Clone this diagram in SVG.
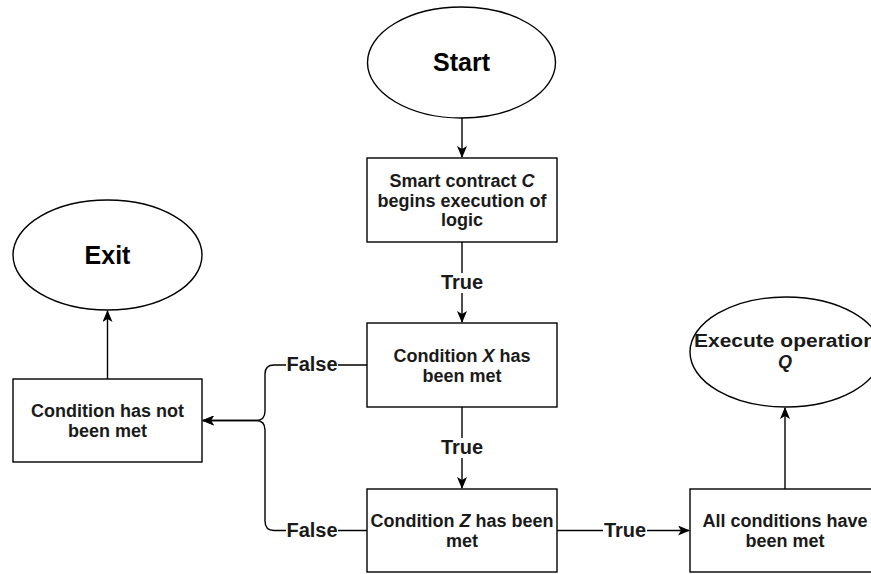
<svg xmlns="http://www.w3.org/2000/svg" width="871" height="574" viewBox="0 0 871 574">
  <style>
    .shape { fill: #ffffff; stroke: #000000; stroke-width: 1.4; }
    .edge { fill: none; stroke: #000000; stroke-width: 1.4; }
    .txt { font-family: "Liberation Sans", Arial, Helvetica, sans-serif; font-weight: bold; font-size: 18px; fill: #1a1a1a; text-anchor: middle; }
    .big { font-size: 25px; fill: #000000; }
    .lbl { font-family: "Liberation Sans", Arial, Helvetica, sans-serif; font-weight: bold; font-size: 20px; fill: #1a1a1a; text-anchor: middle; }
    .lblbg { fill: #ffffff; stroke: none; }
  </style>
  <defs>
    <marker id="arrow" viewBox="0 0 12 10" refX="11" refY="5" markerWidth="12" markerHeight="10" markerUnits="userSpaceOnUse" orient="auto">
      <path d="M0,0 L12,5 L0,10 L3,5 Z" fill="#000000"/>
    </marker>
  </defs>

  <rect width="871" height="574" fill="#ffffff"/>

  <!-- connectors -->
  <g id="connectors">
    <path class="edge" d="M462,118 V157" marker-end="url(#arrow)"/>
    <path class="edge" d="M462,242 V322" marker-end="url(#arrow)"/>
    <path class="edge" d="M462,407 V488" marker-end="url(#arrow)"/>
    <path class="edge" d="M557,530.5 H689" marker-end="url(#arrow)"/>
    <path class="edge" d="M785,489 V408" marker-end="url(#arrow)"/>
    <path class="edge" d="M107.5,379 V311" marker-end="url(#arrow)"/>
    <path class="edge" d="M367,365 H274 Q265,365 265,374 V411 Q265,420.5 256,420.5 H203" marker-end="url(#arrow)"/>
    <path class="edge" d="M367,530.5 H274 Q265,530.5 265,521 V430 Q265,420.5 256,420.5 H203" marker-end="url(#arrow)"/>

    <!-- edge labels -->
    <rect class="lblbg" x="440" y="273" width="44" height="20"/>
    <text class="lbl" x="462" y="289">True</text>
    <rect class="lblbg" x="440" y="438" width="44" height="20"/>
    <text class="lbl" x="462" y="454">True</text>
    <rect class="lblbg" x="603" y="521" width="44" height="20"/>
    <text class="lbl" x="625" y="537">True</text>
    <rect class="lblbg" x="286" y="355" width="52" height="20"/>
    <text class="lbl" x="312" y="371">False</text>
    <rect class="lblbg" x="286" y="521" width="52" height="20"/>
    <text class="lbl" x="312" y="537">False</text>
  </g>

  <!-- nodes -->
  <g id="start">
    <ellipse class="shape" cx="461.5" cy="62.5" rx="94" ry="55.5"/>
    <text class="txt big" x="461.5" y="71">Start</text>
  </g>

  <g id="begin-logic">
    <rect class="shape" x="367" y="158" width="190" height="84"/>
    <text class="txt" x="462" y="187">Smart contract <tspan font-style="italic">C</tspan></text>
    <text class="txt" x="462" y="207">begins execution of</text>
    <text class="txt" x="462" y="226">logic</text>
  </g>

  <g id="condition-x">
    <rect class="shape" x="367" y="323" width="190" height="84"/>
    <text class="txt" x="462" y="362">Condition <tspan font-style="italic">X</tspan> has</text>
    <text class="txt" x="462" y="382">been met</text>
  </g>

  <g id="condition-z">
    <rect class="shape" x="367" y="489" width="190" height="83"/>
    <text class="txt" x="462" y="527">Condition <tspan font-style="italic">Z</tspan> has been</text>
    <text class="txt" x="462" y="547">met</text>
  </g>

  <g id="not-met">
    <rect class="shape" x="13" y="379" width="189" height="83"/>
    <text class="txt" x="107.5" y="417">Condition has not</text>
    <text class="txt" x="107.5" y="437">been met</text>
  </g>

  <g id="exit">
    <ellipse class="shape" cx="107.5" cy="255" rx="94.5" ry="55"/>
    <text class="txt big" x="107.5" y="264">Exit</text>
  </g>

  <g id="all-met">
    <rect class="shape" x="690" y="489" width="192" height="83"/>
    <text class="txt" x="785" y="527">All conditions have</text>
    <text class="txt" x="785" y="547">been met</text>
  </g>

  <g id="execute-q">
    <ellipse class="shape" cx="786" cy="352" rx="96" ry="55"/>
    <text class="txt" x="785" y="347" font-size="19" textLength="182" lengthAdjust="spacingAndGlyphs">Execute operation</text>
    <text class="txt" x="785" y="368" font-size="19" font-style="italic">Q</text>
  </g>
</svg>
